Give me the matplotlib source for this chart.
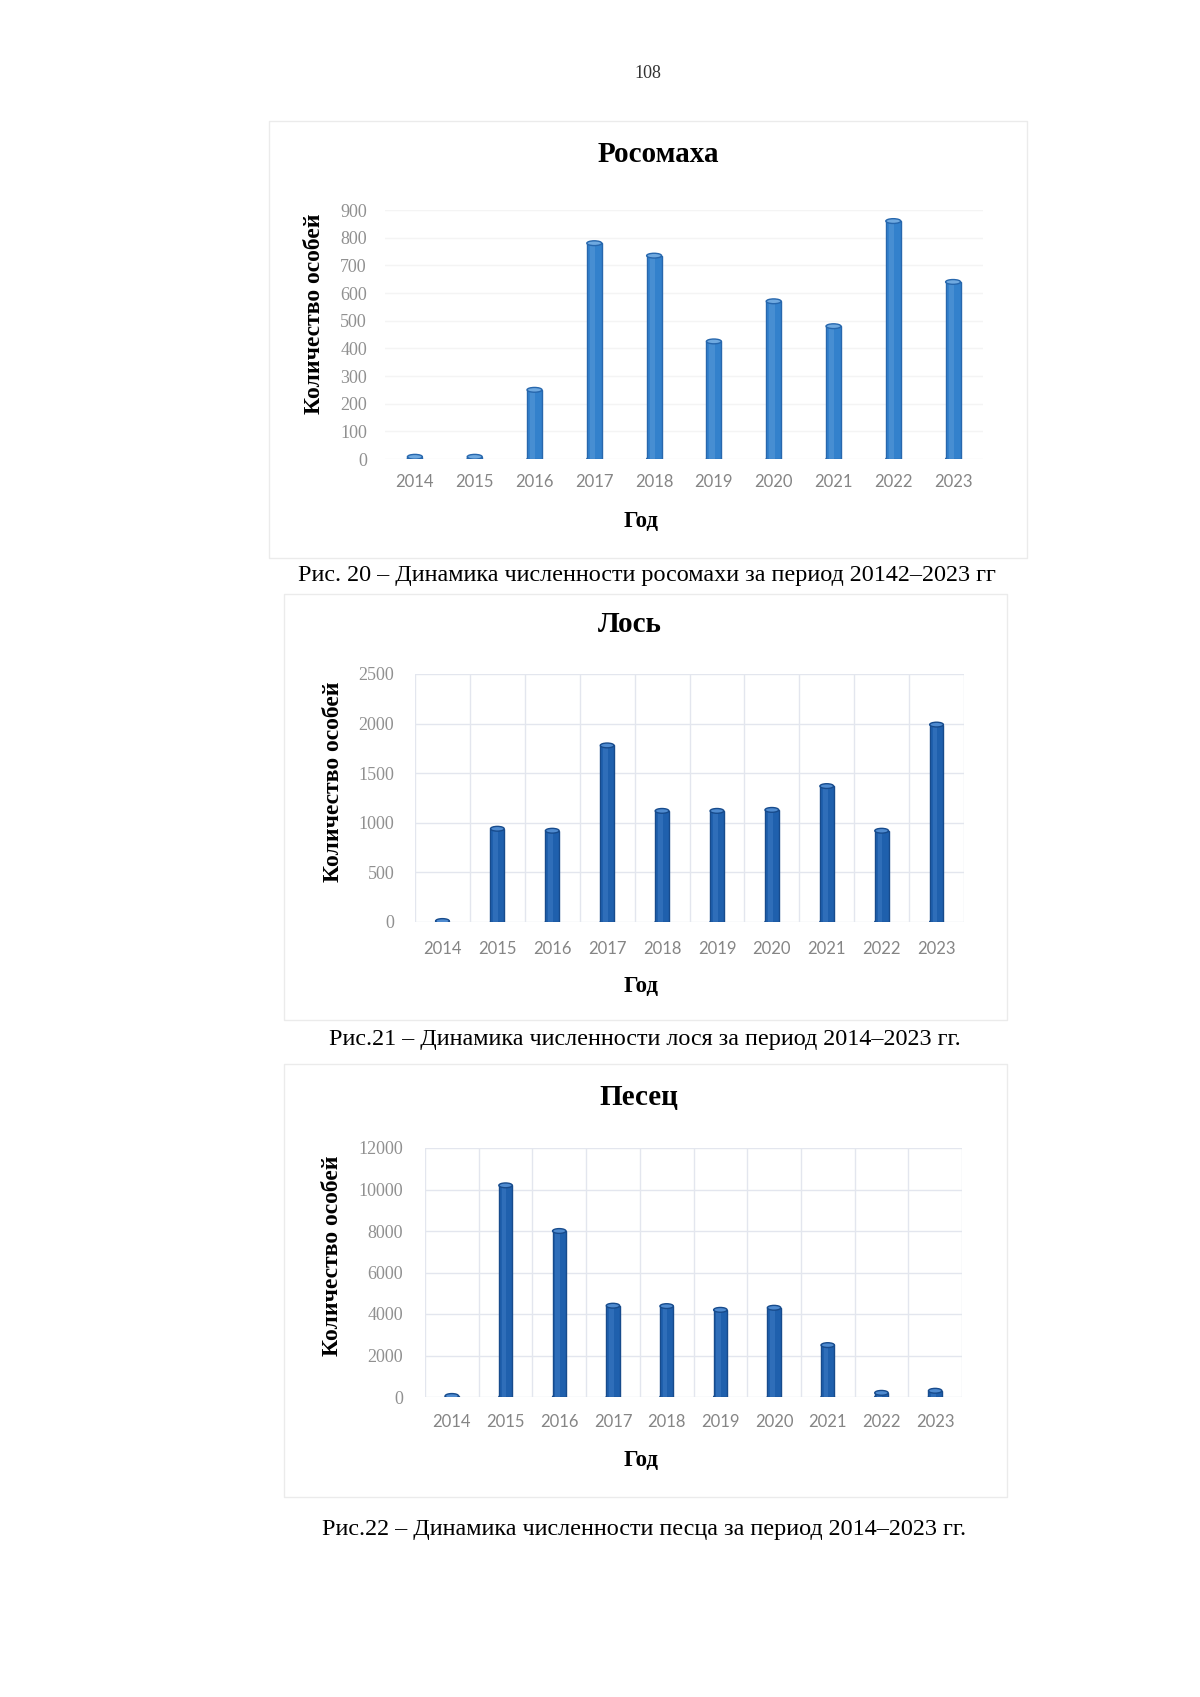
import numpy as np
import matplotlib.pyplot as plt
from matplotlib.patches import Ellipse, Rectangle

# ---- data ----
years = ["2014", "2015", "2016", "2017", "2018", "2019", "2020", "2021", "2022", "2023"]
wolverine = [8, 8, 250, 780, 735, 425, 570, 480, 860, 640]
moose = [10, 940, 920, 1780, 1120, 1120, 1130, 1370, 920, 1990]
arctic_fox = [50, 10200, 8000, 4400, 4380, 4200, 4300, 2500, 200, 300]

wolverine_ticks = [0, 100, 200, 300, 400, 500, 600, 700, 800, 900]
moose_ticks = [0, 500, 1000, 1500, 2000, 2500]
fox_ticks = [0, 2000, 4000, 6000, 8000, 10000, 12000]

titles = ["Росомаха", "Лось", "Песец"]
captions = [
    "Рис. 20 – Динамика численности росомахи за период 20142–2023 гг",
    "Рис.21 – Динамика численности лося за период 2014–2023 гг.",
    "Рис.22 – Динамика численности песца за период 2014–2023 гг.",
]
ylabel = "Количество особей"
xlabel = "Год"

W, H = 1200, 1697
SERIF = "Liberation Serif"
fig = plt.figure(figsize=(W / 100, H / 100), dpi=100)
fig.patch.set_facecolor("white")


def px_axes(left, top, right, bottom):
    return fig.add_axes([left / W, 1 - bottom / H, (right - left) / W, (bottom - top) / H])


def fig_text(x, y, s, **kw):
    fig.text(x / W, 1 - y / H, s, ha="center", va="center", family=SERIF, **kw)


def box(left, top, right, bottom):
    fig.patches.append(Rectangle((left / W, 1 - bottom / H), (right - left) / W, (bottom - top) / H,
                                 transform=fig.transFigure, fill=False, edgecolor="#ebebeb", lw=1.0))


def cylinder_bars(ax, values, color, edge, light, grid_color, vgrid, ypad, xpad):
    x = np.arange(len(values))
    w = 0.25
    ymax = ax.get_ylim()[1]
    cap = ymax * 0.012
    ax.bar(x, values, width=w, color=color, edgecolor=edge, linewidth=1.0, zorder=3)
    # highlight stripe for the cylinder look
    ax.bar(x - w * 0.12, values, width=w * 0.35, color=light, linewidth=0, alpha=0.35, zorder=4)
    for xi, v in zip(x, values):
        ax.add_patch(Ellipse((xi, 0), w, cap * 1.6, facecolor=color, edgecolor=edge, lw=1.0, zorder=2))
        ax.add_patch(Ellipse((xi, v), w, cap * 1.6, facecolor=light, edgecolor=edge, lw=1.0, zorder=5))
    ax.set_xlim(-0.5, len(values) - 0.5)
    ax.set_xticks(x)
    ax.set_xticklabels(years, family="Lato", fontsize=12, color="#858585")
    ax.grid(axis="y", color=grid_color, lw=1.0, zorder=0)
    if vgrid:
        ax.set_xticks(np.arange(-0.5, len(values), 1.0), minor=True)
        ax.grid(axis="x", which="minor", color=grid_color, lw=1.0, zorder=0)
    ax.tick_params(axis="both", which="both", length=0)
    ax.tick_params(axis="x", pad=xpad)
    ax.tick_params(axis="y", pad=ypad)
    for lab in ax.get_yticklabels():
        lab.set_family(SERIF)
        lab.set_fontsize(13)
        lab.set_color("#909090")
    for s in ax.spines.values():
        s.set_visible(False)
    ax.set_facecolor("none")


fig_text(648, 74, "108", fontsize=13, color="#333333")

# ---- Росомаха ----
box(269, 121, 1027, 558)
ax1 = px_axes(385, 210, 983, 459)
ax1.set_ylim(0, 900)
ax1.set_yticks(wolverine_ticks)
cylinder_bars(ax1, wolverine, "#3381cc", "#2767ad", "#6fa9e0", "#f4f4f4", False, 13, 11)
fig_text(658, 155, titles[0], fontsize=21, fontweight="bold")
fig_text(315, 314, ylabel, fontsize=17, fontweight="bold", rotation=90)
fig_text(641, 521, xlabel, fontsize=16.5, fontweight="bold")
fig_text(647, 575, captions[0], fontsize=17.4)

# ---- Лось ----
box(284, 594, 1007, 1020)
ax2 = px_axes(415, 674, 964, 922)
ax2.set_ylim(0, 2500)
ax2.set_yticks(moose_ticks)
cylinder_bars(ax2, moose, "#1f60ad", "#174b8c", "#4f8bd0", "#e3e6ee", True, 15, 14)
fig_text(630, 625, titles[1], fontsize=21, fontweight="bold")
fig_text(333, 782, ylabel, fontsize=17, fontweight="bold", rotation=90)
fig_text(641, 987, xlabel, fontsize=16.5, fontweight="bold")
fig_text(645, 1039, captions[1], fontsize=17.4)

# ---- Песец ----
box(284, 1064, 1007, 1497)
ax3 = px_axes(425, 1148, 962, 1397)
ax3.set_ylim(0, 12000)
ax3.set_yticks(fox_ticks)
cylinder_bars(ax3, arctic_fox, "#1f60ad", "#174b8c", "#4f8bd0", "#e3e6ee", True, 16, 12)
fig_text(639, 1097, titles[2], fontsize=21, fontweight="bold")
fig_text(332, 1256, ylabel, fontsize=17, fontweight="bold", rotation=90)
fig_text(641, 1460, xlabel, fontsize=16.5, fontweight="bold")
fig_text(644, 1530, captions[2], fontsize=17.4)

fig.savefig("out.png", dpi=100)
